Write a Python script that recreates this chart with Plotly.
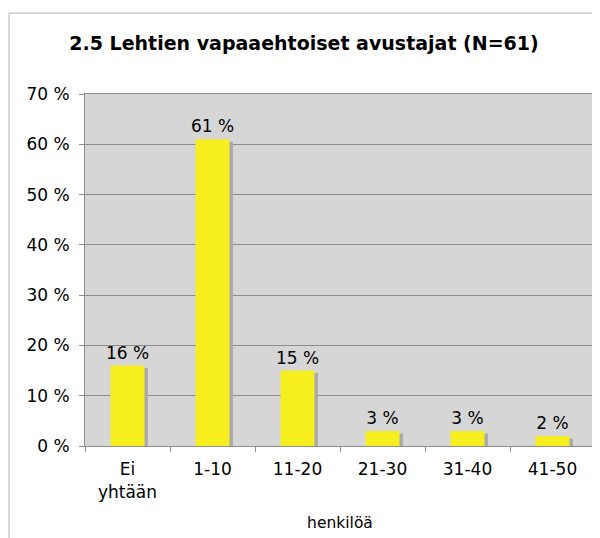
import plotly.graph_objects as go

categories = ["Ei<br>yhtään", "1-10", "11-20", "21-30", "31-40", "41-50"]
values = [16, 61, 15, 3, 3, 2]
labels = ["16 %", "61 %", "15 %", "3 %", "3 %", "2 %"]
y_ticks = [0, 10, 20, 30, 40, 50, 60, 70]
y_tick_text = [f"{v} %" for v in y_ticks]

FONT = "Verdana, DejaVu Sans, sans-serif"

fig = go.Figure()
# shadow
fig.add_trace(go.Bar(
    x=categories, y=[v - 0.5 for v in values],
    width=0.4, offset=-0.2 + 0.04,
    marker=dict(color="#a9a9a9", line=dict(width=0)),
    hoverinfo="skip", showlegend=False,
))
fig.add_trace(go.Bar(
    x=categories, y=values,
    width=0.4, offset=-0.2,
    marker=dict(color="#f6ee1e", line=dict(width=0)),
    text=labels, textposition="outside", cliponaxis=False,
    constraintext="none",
    textfont=dict(family=FONT, size=17, color="black"),
    showlegend=False,
))

fig.update_layout(
    width=592, height=530,
    margin=dict(l=77, r=5, t=86, b=92),
    paper_bgcolor="white",
    plot_bgcolor="#d6d6d6",
    barmode="overlay",
    font=dict(family=FONT, size=17, color="black"),
    title=dict(
        text="<b>2.5 Lehtien vapaaehtoiset avustajat (N=61)</b>",
        x=0.5, xanchor="center", y=0.934, yanchor="middle",
        font=dict(family=FONT, size=19, color="black"),
    ),
    showlegend=False,
)
fig.update_yaxes(
    range=[0, 70], tickvals=y_ticks, ticktext=y_tick_text,
    showgrid=True, gridcolor="#8c8c8c", gridwidth=1,
    showline=True, linecolor="#8c8c8c", linewidth=1, mirror=True,
    ticks="outside", ticklen=5, tickcolor="#8c8c8c",
    ticklabelstandoff=6,
    tickfont=dict(family=FONT, size=17, color="black"),
    zeroline=False, fixedrange=True,
)
fig.update_xaxes(
    title=dict(text="henkilöä", font=dict(family=FONT, size=15.5, color="black"), standoff=16),
    showline=True, linecolor="#8c8c8c", linewidth=1, mirror=True,
    ticks="outside", ticklen=5, tickcolor="#8c8c8c", tickson="boundaries",
    ticklabelstandoff=8,
    tickfont=dict(family=FONT, size=17, color="black"),
    range=[-0.5, 5.5],
)

# outer chart frame
fig.add_shape(type="line", xref="paper", yref="paper",
              x0=-0.149, x1=1.05, y0=1.23, y1=1.23,
              line=dict(color="#b0b0b0", width=1))
fig.add_shape(type="line", xref="paper", yref="paper",
              x0=-0.149, x1=-0.149, y0=1.23, y1=-0.3,
              line=dict(color="#b0b0b0", width=1))

fig.write_html("out.html")
